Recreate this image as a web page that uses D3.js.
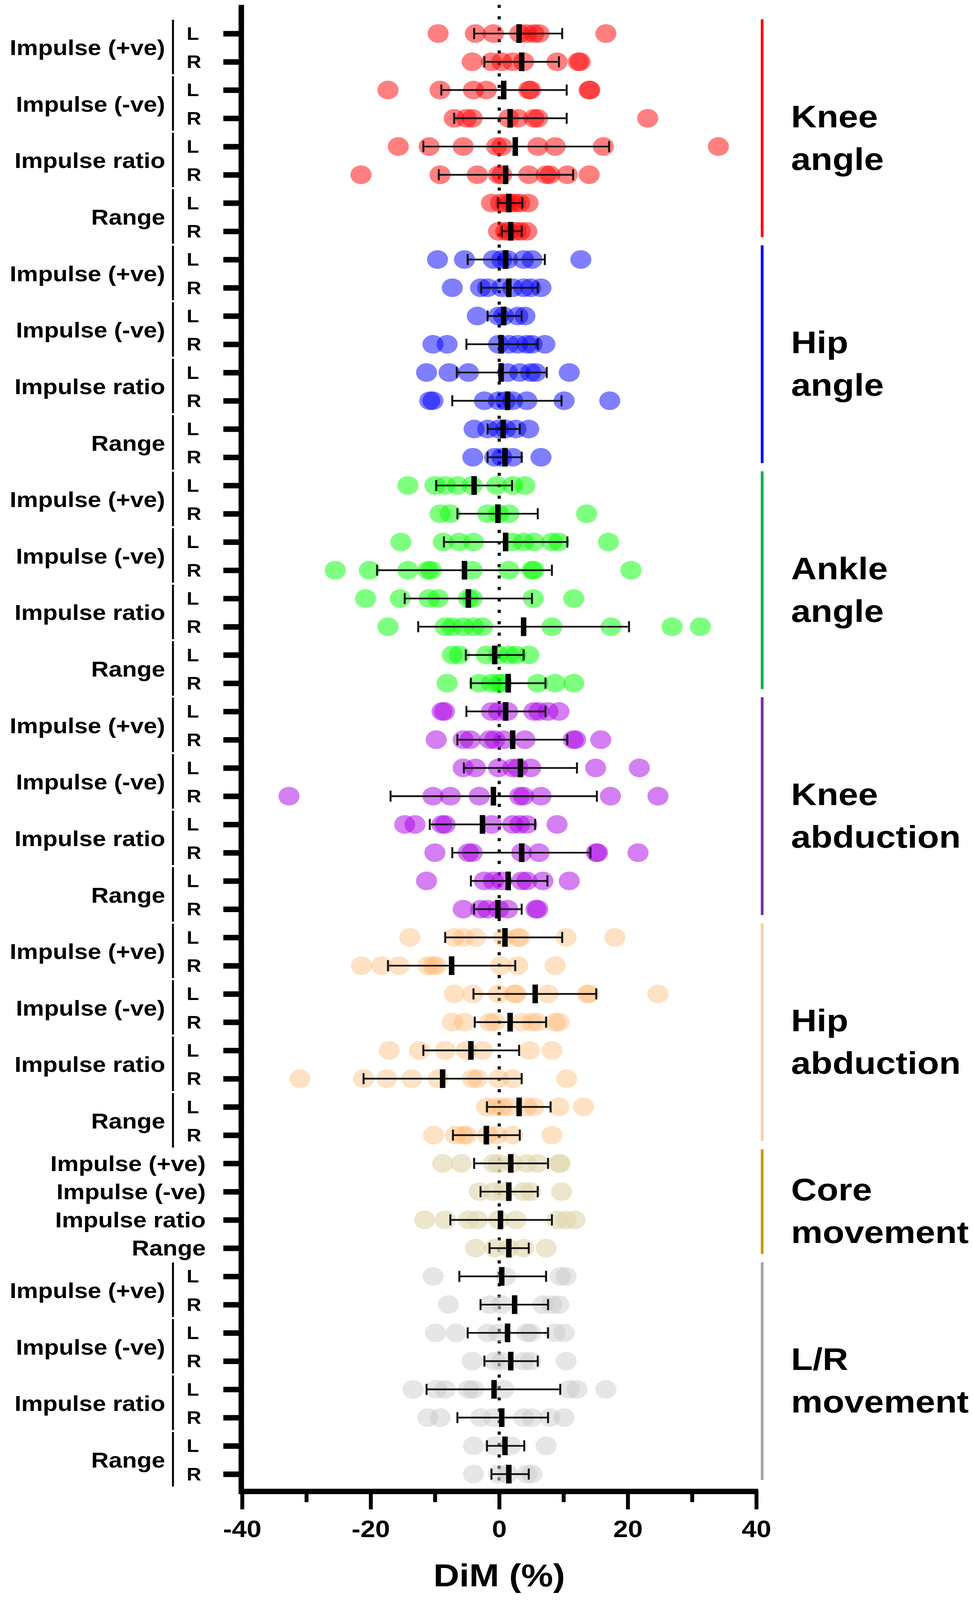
<!DOCTYPE html>
<html><head><meta charset="utf-8">
<script src="https://cdn.jsdelivr.net/npm/d3@7"></script>
<style>html,body{margin:0;padding:0;background:#fff;overflow:hidden}svg{display:block}</style>
</head><body>
<svg id="c"></svg>
<script>
// ---------- DATA ----------
const groupNames = [["Knee","angle"],["Hip","angle"],["Ankle","angle"],["Knee","abduction"],["Hip","abduction"],["Core","movement"],["L/R","movement"]];
const measureLabels = ["Impulse (+ve)","Impulse (-ve)","Impulse ratio","Range"];
const sideLabels = ["L","R"];
const xTicksMajor = [-40,-20,0,20,40];
const xTicksMinor = [-30,-10,10,30];

// points per row (DiM %), rows ordered Imp+ L, Imp+ R, Imp- L, Imp- R, ratio L, ratio R, Range L, Range R
const kneeAnglePts = [
  [-9.5,-3.7,-0.9,3.2,4.3,5.4,6.2,16.6],
  [-4.2,-1.2,0.4,2.1,3.8,9.0,12.3,12.6],
  [-17.3,-9.2,-4.0,-2.0,4.6,4.9,14.0,14.1],
  [-7.0,-5.1,-4.2,1.5,2.9,5.4,6.0,23.1],
  [-15.7,-10.9,-5.6,-0.4,0.4,6.0,8.7,16.2,34.1],
  [-21.5,-9.2,-3.4,-0.1,0.4,4.6,7.3,7.9,10.6,14.0],
  [-1.2,0.2,1.0,1.8,2.5,3.2,4.5],
  [-0.1,1.0,1.5,2.6,3.3,4.3]
];
const kneeAngleStats = [[3.1,-3.9,9.8],[3.5,-2.3,9.3],[0.7,-9.0,10.5],[1.7,-7.0,10.5],[2.5,-11.8,17.1],[1.0,-9.4,11.5],[1.5,-0.2,3.6],[1.8,0.4,3.5]];

const hipAnglePts = [
  [-9.6,-5.4,-0.9,0.4,1.3,3.8,5.1,12.7],
  [-7.3,-2.9,-1.8,0.4,2.1,3.8,4.9,6.5],
  [-3.4,-0.1,0.7,2.9,4.0],
  [-10.3,-8.1,-0.1,1.5,2.9,4.3,5.1,7.1],
  [-11.3,-7.8,-4.8,1.3,3.2,4.9,5.7,10.9],
  [-10.8,-10.3,-2.3,-0.1,1.0,2.1,4.3,10.1,17.2],
  [-3.9,-1.8,-0.1,1.0,2.6,4.6],
  [-4.1,-0.7,0.4,2.1,6.5]
];
const hipAngleStats = [[1.0,-4.9,7.1],[1.5,-2.8,6.0],[0.7,-1.8,3.5],[0.3,-5.1,6.0],[0.3,-6.6,7.4],[1.3,-7.3,9.7],[0.6,-1.8,3.2],[0.9,-1.8,3.5]];

const anklePts = [
  [-14.2,-10.0,-8.4,-6.5,-4.2,-0.4,2.1,4.0],
  [-9.2,-7.6,-1.8,-0.1,1.5,13.6],
  [-15.3,-8.7,-6.2,-4.0,2.1,3.8,5.4,8.2,9.3,17.0],
  [-25.5,-20.2,-14.2,-11.1,-10.6,-4.2,1.5,5.1,5.4,20.5],
  [-20.8,-15.4,-10.9,-9.5,-4.8,-4.2,5.3,11.6],
  [-17.3,-8.4,-7.3,-5.6,-4.0,-2.6,8.2,17.4,26.9,31.3],
  [-7.3,-6.2,-2.0,-0.1,1.5,2.6,4.6],
  [-8.1,-3.1,-1.2,-0.1,0.4,6.0,8.7,11.6]
];
const ankleStats = [[-3.9,-9.8,2.0],[-0.2,-6.5,6.0],[1.0,-8.6,10.6],[-5.4,-19.0,8.2],[-4.8,-14.7,5.1],[3.8,-12.6,20.2],[-0.7,-5.2,3.8],[1.4,-4.4,7.2]];

const kneeAbdPts = [
  [-8.9,-8.5,-1.2,-0.1,1.3,5.4,6.2,7.6,9.3],
  [-9.8,-5.6,-4.5,-1.5,-0.7,0.7,4.0,11.5,11.9,15.8],
  [-5.6,-3.7,-0.1,2.1,2.9,4.9,15.0,21.8],
  [-32.7,-10.3,-7.6,-3.1,3.2,3.8,6.5,17.3,24.7],
  [-14.7,-13.1,-8.9,-8.4,-1.2,2.1,3.2,4.3,9.0],
  [-10.0,-4.8,-4.2,3.5,6.2,15.1,15.3,21.6],
  [-11.3,-2.3,-0.9,0.4,3.5,4.3,6.8,10.9],
  [-5.6,-2.9,-1.8,-0.1,1.3,5.7,6.0]
];
const kneeAbdStats = [[1.0,-5.1,7.2],[2.1,-6.5,10.6],[3.3,-5.5,12.1],[-0.9,-16.9,15.2],[-2.6,-10.8,5.6],[3.5,-7.3,14.2],[1.4,-4.4,7.5],[-0.2,-3.9,3.5]];

const hipAbdPts = [
  [-13.9,-7.0,-5.6,-3.7,0.7,2.9,3.2,10.4,18.0],
  [-21.4,-18.3,-15.6,-11.1,-10.3,-9.8,0.2,2.9,8.7],
  [-7.0,-4.1,-0.1,2.4,2.6,7.6,13.7,14.0,24.7],
  [-7.3,-5.4,-1.5,-0.7,3.5,5.1,6.0,8.7,9.3],
  [-17.1,-12.4,-8.4,-5.1,-2.6,4.7,8.2],
  [-31.0,-21.1,-17.5,-13.6,-9.5,-4.2,-3.4,-0.1,2.1,10.5],
  [-2.0,-0.7,0.4,1.5,4.3,5.4,9.3,13.1],
  [-10.2,-6.8,-5.6,-5.1,-1.8,-0.4,2.1,8.2]
];
const hipAbdStats = [[0.9,-8.4,9.8],[-7.4,-17.3,2.5],[5.6,-4.0,15.1],[1.7,-3.8,7.3],[-4.4,-11.8,3.1],[-8.8,-21.1,3.5],[3.1,-1.9,8.0],[-2.0,-7.2,3.2]];

const corePts = [
  [-8.8,-5.9,-0.9,-0.1,2.1,4.3,6.0,9.3,9.5],
  [-3.1,-0.9,0.7,3.8,4.9,9.7],
  [-11.6,-8.4,-4.8,-3.4,-0.1,2.6,9.0,10.4,11.8],
  [-3.7,-0.7,1.5,3.8,7.3]
];
const coreStats = [[1.8,-3.9,7.6],[1.5,-2.9,6.0],[0.2,-7.6,8.2],[1.5,-1.5,4.6]];

const lrPts = [
  [-10.3,1.0,9.5,10.4],
  [-7.9,-1.5,0.4,6.8,8.2,9.3],
  [-9.9,-6.7,-1.8,-0.1,4.3,4.9,8.7,10.1],
  [-4.2,-0.7,0.4,3.8,4.9,10.4],
  [-13.4,-9.8,-8.4,-4.8,-4.0,0.7,10.9,12.1,16.6],
  [-11.1,-9.2,-2.9,-0.9,3.8,5.1,7.9,10.1],
  [-4.0,-0.7,1.8,7.3],
  [-4.0,-0.1,1.3,4.3,5.1]
];
const lrStats = [[0.4,-6.2,7.3],[2.4,-2.9,7.6],[1.3,-4.9,7.6],[1.8,-2.3,6.0],[-0.8,-11.3,9.5],[0.4,-6.5,7.6],[0.9,-1.9,3.9],[1.5,-1.2,4.6]];

const groupPts = [kneeAnglePts, hipAnglePts, anklePts, kneeAbdPts, hipAbdPts, corePts, lrPts];
const groupStats = [kneeAngleStats, hipAngleStats, ankleStats, kneeAbdStats, hipAbdStats, coreStats, lrStats];
const pointColors = ["#ff0000","#0000ff","#00ff00","#aa00e6","#ffb870","#e0d8b0","#c8c8c8"];
const pointOpacity = [0.5,0.5,0.5,0.5,0.42,0.65,0.45];
const barColors = ["#ff0000","#0000ff","#00b050","#7030a0","#f8cbad","#cc9a06","#a6a6a6"];

// ---------- BUILD ROW TABLE ----------
const rows = [];
groupPts.forEach((g, gi) => {
  g.forEach((pts, ri) => {
    const st = groupStats[gi][ri];
    rows.push({id: rows.length, gi, ri, pts, mean: st[0], lo: st[1], hi: st[2]});
  });
});

const W = 2492, H = 4626;
const vw = window.innerWidth || W, vh = window.innerHeight || H;
const svg = d3.select("#c").attr("width", vw).attr("height", vh)
  .attr("viewBox", `0 0 ${W} ${H}`).attr("preserveAspectRatio", "none");
svg.append("rect").attr("width", W).attr("height", H).attr("fill", "#fff");

const x = d3.scaleLinear().domain([-40, 40]).range([620, 1937]);
const y = d3.scalePoint().domain(rows.map(r => r.id)).range([97, 4262]);
const font = "'Liberation Sans', Arial, sans-serif";

const plotTop = 14, axisY = 4312;

// dotted zero line
svg.append("line").attr("x1", x(0)).attr("x2", x(0)).attr("y1", plotTop).attr("y2", axisY - 8)
  .attr("stroke", "#000").attr("stroke-width", 8).attr("stroke-dasharray", "9 24");

// points
const rowG = svg.append("g").selectAll("g").data(rows).join("g");
rowG.selectAll("circle").data(r => r.pts.map(v => ({v, gi: r.gi, id: r.id}))).join("circle")
  .attr("cx", d => x(d.v)).attr("cy", d => y(d.id)).attr("r", 27)
  .attr("fill", d => pointColors[d.gi]).attr("fill-opacity", d => pointOpacity[d.gi]);

// error bars
rowG.append("line").attr("x1", r => x(r.lo)).attr("x2", r => x(r.hi))
  .attr("y1", r => y(r.id)).attr("y2", r => y(r.id)).attr("stroke", "#111").attr("stroke-width", 5);
rowG.append("line").attr("x1", r => x(r.lo)).attr("x2", r => x(r.lo))
  .attr("y1", r => y(r.id) - 16).attr("y2", r => y(r.id) + 16).attr("stroke", "#111").attr("stroke-width", 5);
rowG.append("line").attr("x1", r => x(r.hi)).attr("x2", r => x(r.hi))
  .attr("y1", r => y(r.id) - 16).attr("y2", r => y(r.id) + 16).attr("stroke", "#111").attr("stroke-width", 5);
// mean bar
rowG.append("rect").attr("x", r => x(r.mean) - 7).attr("width", 14)
  .attr("y", r => y(r.id) - 27).attr("height", 54).attr("fill", "#000");

// left axis
const yAxis = svg.append("g").attr("transform", `translate(${x(-40) - 2},0)`)
  .call(d3.axisLeft(y).tickSize(46).tickFormat("").tickSizeOuter(0));
yAxis.select(".domain").remove();
yAxis.selectAll(".tick line").attr("stroke", "#000").attr("stroke-width", 16);
svg.append("line").attr("x1", x(-40) - 2).attr("x2", x(-40) - 2).attr("y1", plotTop).attr("y2", axisY + 8)
  .attr("stroke", "#000").attr("stroke-width", 14);

// bottom axis
const xAxis = svg.append("g").attr("transform", `translate(0,${axisY})`)
  .call(d3.axisBottom(x).tickValues(xTicksMajor).tickSize(52).tickSizeOuter(0).tickFormat(d => String(d)));
xAxis.select(".domain").attr("stroke", "#000").attr("stroke-width", 15);
xAxis.selectAll(".tick line").attr("stroke", "#000").attr("stroke-width", 10);
xAxis.selectAll(".tick text").attr("font-family", font).attr("font-weight", "bold")
  .attr("font-size", 68).attr("fill", "#000").attr("dy", "0").attr("y", 132);
const xMinor = svg.append("g").attr("transform", `translate(0,${axisY})`)
  .call(d3.axisBottom(x).tickValues(xTicksMinor).tickSize(31).tickFormat(""));
xMinor.select(".domain").remove();
xMinor.selectAll(".tick line").attr("stroke", "#000").attr("stroke-width", 10);
svg.append("line").attr("x1", x(-40) - 9).attr("x2", x(40) + 5).attr("y1", axisY).attr("y2", axisY)
  .attr("stroke", "#000").attr("stroke-width", 15);

svg.append("text").attr("x", x(0)).attr("y", 4586).attr("text-anchor", "middle")
  .attr("font-family", font).attr("font-weight", "bold").attr("font-size", 92).text("DiM (%)");

// left labels
groupPts.forEach((g, gi) => {
  const ids = rows.filter(r => r.gi === gi).map(r => r.id);
  if (g.length === 8) {
    for (let m = 0; m < 4; m++) {
      const yL = y(ids[2*m]), yR = y(ids[2*m+1]);
      svg.append("text").attr("x", 423).attr("y", (yL + yR) / 2).attr("text-anchor", "end")
        .attr("dominant-baseline", "central").attr("font-family", font).attr("font-weight", "bold")
        .attr("font-size", 62).text(measureLabels[m]);
      svg.append("line").attr("x1", 443).attr("x2", 443).attr("y1", yL - 40).attr("y2", yR + 36)
        .attr("stroke", "#000").attr("stroke-width", 5);
      sideLabels.forEach((s, si) => {
        svg.append("text").attr("x", 478).attr("y", si ? yR : yL).attr("dominant-baseline", "central")
          .attr("font-family", font).attr("font-weight", "bold").attr("font-size", 52).text(s);
      });
    }
  } else {
    ids.forEach((id, m) => {
      svg.append("text").attr("x", 527).attr("y", y(id)).attr("text-anchor", "end")
        .attr("dominant-baseline", "central").attr("font-family", font).attr("font-weight", "bold")
        .attr("font-size", 62).text(measureLabels[m]);
    });
  }
  // right group bar + label
  const y0 = y(ids[0]) - 41, y1 = y(ids[ids.length - 1]) + 17;
  svg.append("line").attr("x1", 1952).attr("x2", 1952).attr("y1", y0).attr("y2", y1)
    .attr("stroke", barColors[gi]).attr("stroke-width", 7);
  const cy = (y(ids[0]) + y(ids[ids.length - 1])) / 2;
  groupNames[gi].forEach((t, li) => {
    svg.append("text").attr("x", 2026).attr("y", cy - 15 + li * 123)
      .attr("font-family", font).attr("font-weight", "bold").attr("font-size", 91).text(t);
  });
});
</script>
</body></html>
